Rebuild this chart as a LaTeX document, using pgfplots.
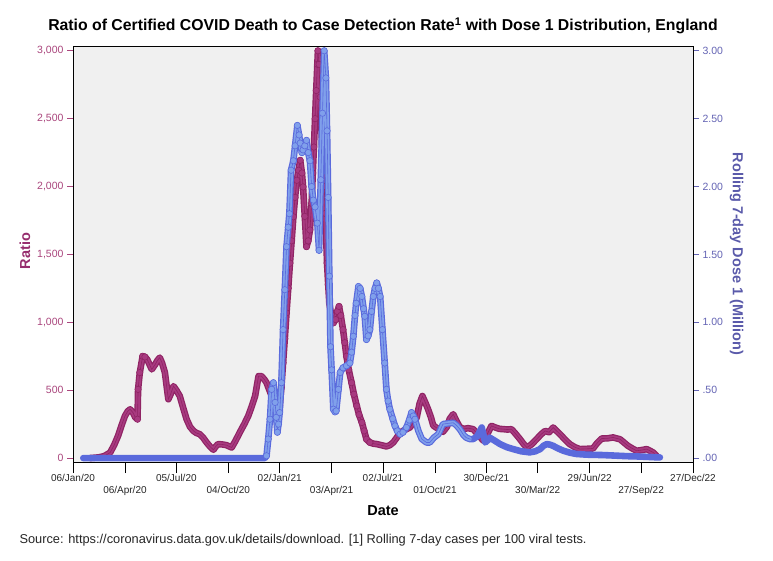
\documentclass[border=0pt]{standalone}
\usepackage{pgfplots}
\usepackage{pgfplotstable}
\pgfplotsset{compat=1.18}
\usepackage{fontspec}
\setmainfont{Liberation Sans}
\definecolor{mag}{RGB}{168,58,128}
\definecolor{magedge}{RGB}{143,36,100}
\definecolor{blu}{RGB}{128,160,235}
\definecolor{bluedge}{RGB}{90,106,220}
\definecolor{bgc}{RGB}{240,240,240}
\definecolor{lefttxt}{RGB}{170,70,125}
\definecolor{leftlab}{RGB}{150,45,110}
\definecolor{righttxt}{RGB}{100,100,180}
\definecolor{rightlab}{RGB}{90,90,170}

\pgfplotstableread{
day ratio
30 0
45 5
55 15
65 40
72 95
79 164
85 240
91 310
96 345
100 359
105 335
109 300
113 286
114 506
117 630
122 750
126 745
130 726
134 690
138 653
144 690
148 720
152 740
156 700
161 630
164 530
167 433
171 470
176 530
181 500
187 457
193 370
199 286
205 230
211 200
216 185
222 176
228 150
234 115
240 85
246 61
250 85
254 103
262 100
269 95
274 85
278 78
285 130
292 188
300 250
307 310
313 380
319 457
325 604
330 604
335 580
339 555
344 500
348 457
351 330
355 310
358 350
362 384
365 520
368 702
371 880
374 1069
377 1250
380 1435
383 1600
386 1777
389 1920
392 2046
395 2120
398 2193
401 2100
403 1997
406 1780
409 1557
412 1600
415 1680
418 1876
420 2100
422 2291
424 2500
426 2707
428 2900
429 3000
431 2900
433 2658
435 2450
437 2217
440 2000
442 1802
445 1435
447 1280
449 1142
452 1060
456 995
460 1020
463 1080
466 1117
469 1050
473 946
476 850
479 750
483 650
488 555
492 470
497 384
501 320
506 262
510 200
514 139
520 115
526 106
532 103
540 95
549 86
555 95
561 115
567 150
573 188
580 205
590 225
596 260
602 298
607 400
612 457
617 410
622 359
627 300
631 240
636 225
640 215
648 193
655 230
660 290
666 323
672 270
678 225
685 215
692 220
701 213
710 170
719 127
726 180
733 237
740 225
747 215
754 213
761 210
768 213
775 180
783 139
789 105
795 78
803 100
812 139
820 175
827 200
834 190
841 225
847 200
853 176
861 140
870 103
879 80
888 66
900 68
911 71
918 110
926 144
936 145
946 152
952 145
958 139
965 115
972 90
980 70
987 54
995 58
1005 66
1010 55
1016 42
1022 17
}\ratiodata

\pgfplotstableread{
day dose
18 0
24 0
30 0
36 0
42 0
48 0
54 0
60 0
66 0
72 0
78 0
84 0
90 0
96 0
102 0
108 0
114 0
120 0
126 0
132 0
138 0
144 0
150 0
156 0
162 0
168 0
174 0
180 0
186 0
192 0
198 0
204 0
210 0
216 0
222 0
228 0
234 0
240 0
246 0
252 0
258 0
264 0
270 0
276 0
282 0
288 0
294 0
300 0
306 0
312 0
318 0
324 0
330 0
336 0
339 0.017
342 0.14
345 0.286
348 0.506
351 0.555
354 0.41
356 0.30
358 0.19
360 0.25
362 0.335
365 0.555
368 0.946
371 1.24
374 1.557
377 1.70
379 1.80
382 2.12
386 2.19
389 2.30
393 2.45
396 2.38
398 2.32
401 2.25
403 2.27
406 2.30
409 2.34
412 2.25
415 2.19
418 2.0
421 1.90
424 1.85
428 1.73
431 1.53
434 2.05
437 2.54
440 3.0
443 2.80
445 2.41
447 1.92
449 1.34
451 0.82
453 0.65
456 0.36
459 0.34
461 0.347
465 0.506
468 0.63
473 0.665
479 0.68
485 0.70
488 0.78
491 0.897
494 1.05
496 1.14
500 1.264
503 1.25
506 1.19
509 1.10
511 1.044
514 0.873
517 0.90
520 0.946
523 1.08
526 1.19
529 1.25
532 1.29
535 1.25
538 1.19
542 0.946
546 0.70
549 0.506
552 0.42
555 0.36
560 0.29
564 0.237
568 0.20
573 0.176
578 0.19
584 0.225
589 0.28
593 0.335
596 0.31
599 0.286
605 0.20
611 0.14
619 0.115
625 0.115
632 0.15
640 0.176
648 0.25
656 0.255
666 0.26
672 0.24
678 0.21
684 0.17
689 0.15
695 0.14
701 0.14
708 0.16
713 0.20
716 0.225
719 0.17
722 0.115
726 0.13
730 0.15
738 0.13
748 0.103
760 0.08
771 0.066
785 0.05
800 0.042
810 0.05
818 0.066
824 0.09
830 0.103
836 0.098
841 0.09
850 0.07
859 0.054
870 0.04
882 0.03
900 0.025
929 0.022
950 0.018
970 0.014
987 0.012
1005 0.009
1020 0.006
1028 0.005
}\dosedata

\pgfplotsset{
  base/.style={
    at={(73pt,98pt)}, anchor=south west,
    width=620pt, height=416pt, scale only axis,
    xmin=0, xmax=1086,
  },
  band/.style={line width=6.6pt, line join=round, line cap=round},
  inner/.style={line width=4.2pt, line join=round, line cap=round},
}

\begin{document}
\begin{tikzpicture}[x=1pt,y=1pt]
\path[use as bounding box, fill=white] (0,0) rectangle (773,560);

% frame, background and date axis
\begin{axis}[base,
  ymin=-29, ymax=3035,
  axis background/.style={fill=bgc},
  axis line style={black, line width=0.8pt},
  ytick=\empty,
  xtick pos=bottom,
  tick align=outside,
  major tick length=11pt,
  xtick style={black, line width=0.8pt},
  xtick={0,181,362,543,724,905,1086},
  xticklabels={06/Jan/20,05/Jul/20,02/Jan/21,02/Jul/21,30/Dec/21,29/Jun/22,27/Dec/22},
  extra x ticks={91,272,453,634,814,995},
  extra x tick labels={06/Apr/20,04/Oct/20,03/Apr/21,01/Oct/21,30/Mar/22,27/Sep/22},
  extra x tick style={tick label style={yshift=-12pt}},
  xticklabel style={font=\fontsize{10}{11}\selectfont, text=black!85, yshift=2pt},
  xlabel={Date},
  xlabel style={font=\fontsize{14.5}{16}\selectfont\bfseries, yshift=8pt},
]
\end{axis}

% ratio (left axis)
\begin{axis}[base,
  ymin=-29, ymax=3035,
  axis x line=none,
  axis y line*=left,
  axis line style={black, line width=0.8pt},
  tick align=outside,
  major tick length=6pt,
  ytick={0,500,1000,1500,2000,2500,3000},
  yticklabels={0,500,{1,000},{1,500},{2,000},{2,500},{3,000}},
  ytick style={lefttxt, line width=0.8pt},
  yticklabel style={font=\fontsize{10.5}{12}\selectfont, text=lefttxt},
  ylabel={Ratio},
  ylabel style={font=\fontsize{14.5}{16}\selectfont\bfseries, text=leftlab, xshift=3pt},
]
\addplot[draw=magedge, band] table[x=day,y=ratio] {\ratiodata};
\addplot[draw=mag, inner] table[x=day,y=ratio] {\ratiodata};
\addplot[draw=magedge, line width=0.6pt] table[x=day,y=ratio] {\ratiodata};
\addplot[only marks, mark=*, mark size=3.2pt,
  mark options={fill=mag, draw=magedge, line width=0.6pt}, restrict x to domain=110:127] table[x=day,y=ratio] {\ratiodata};
\addplot[only marks, mark=*, mark size=3.2pt,
  mark options={fill=mag, draw=magedge, line width=0.6pt}, restrict x to domain=360:520] table[x=day,y=ratio] {\ratiodata};
\end{axis}

% dose (right axis)
\begin{axis}[base,
  ymin=-0.029, ymax=3.035,
  axis x line=none,
  axis y line*=right,
  axis line style={black, line width=0.8pt},
  tick align=outside,
  major tick length=6pt,
  ytick={0,0.5,1,1.5,2,2.5,3},
  yticklabels={.00,.50,1.00,1.50,2.00,2.50,3.00},
  ytick style={righttxt, line width=0.8pt},
  yticklabel style={font=\fontsize{10.5}{12}\selectfont, text=righttxt},
  ylabel={Rolling 7-day Dose 1 (Million)},
  ylabel style={font=\fontsize{14.5}{16}\selectfont\bfseries, text=rightlab, rotate=180},
]
\addplot[draw=bluedge, band] table[x=day,y=dose] {\dosedata};
\addplot[draw=blu, inner, restrict x to domain=338:700] table[x=day,y=dose] {\dosedata};
\addplot[draw=bluedge, line width=0.6pt] table[x=day,y=dose] {\dosedata};
\addplot[only marks, mark=*, mark size=3.2pt,
  mark options={fill=blu, draw=bluedge, line width=0.6pt}, restrict x to domain=338:600] table[x=day,y=dose] {\dosedata};
\end{axis}

\node[font=\fontsize{15.8}{18}\selectfont\bfseries] at (383,534) {Ratio of Certified COVID Death to Case Detection Rate\textsuperscript{1} with Dose 1 Distribution, England};
\node[anchor=west, font=\fontsize{12.8}{14}\selectfont, text=black!85] at (16,19.5) {Source: https://coronavirus.data.gov.uk/details/download. [1] Rolling 7-day cases per 100 viral tests.};
\end{tikzpicture}
\end{document}
